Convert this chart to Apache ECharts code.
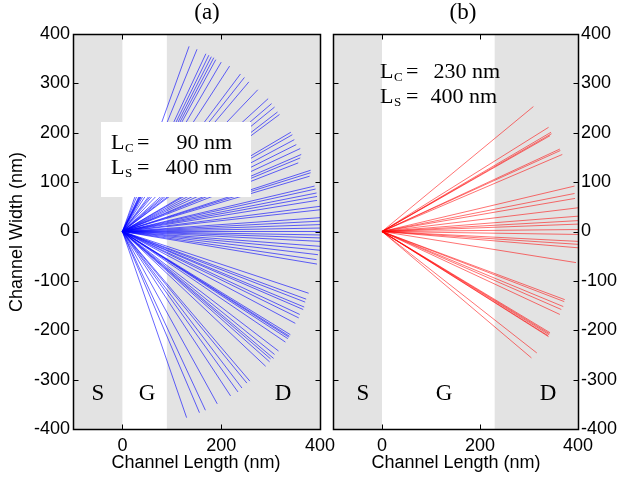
<!DOCTYPE html>
<html>
<head>
<meta charset="utf-8">
<script src="https://cdn.jsdelivr.net/npm/echarts@6/dist/echarts.min.js"></script>
<style>
  html, body { margin: 0; padding: 0; background: #fff; }
  #chart { width: 620px; height: 478px; }
</style>
</head>
<body>
<div id="chart"></div>
<script>
// end points of the paths, (a) L_C = 90 nm
const aEndX = [135, 151, 169, 175, 180, 185, 189, 200, 217, 239, 247, 256, 274, 295, 302, 308, 314, 318,
  341, 344, 348, 352, 360, 362, 360, 356, 381, 381, 379, 389, 391, 393, 394, 394,
  400, 400, 400, 400, 400, 400, 400, 400, 400, 400, 400, 400, 396, 393, 394,
  377, 372, 370, 368, 366, 359, 357, 350, 340, 338, 337, 335, 330, 316, 308, 306, 300, 298, 290,
  258, 252, 242, 234, 219, 192, 168, 156, 130];
const aEndY = [375, 369, 360, 357, 354, 352, 348, 343, 335, 319, 312, 303, 287, 269, 259, 252, 242, 237,
  201, 196, 186, 176, 168, 156, 149, 139, 124, 119, 112, 92, 86, 78, 71, 63,
  51, 44, 28, 21, 14, 7, 0, -7, -13, -20, -30, -38, -47, -57, -66,
  -125, -137, -143, -153, -158, -168, -175, -186, -209, -212, -214, -217, -224, -242, -249, -257, -258, -264, -273,
  -303, -307, -317, -325, -333, -349, -362, -367, -377];

// (b) L_C = 230 nm
const bEndX = [309, 340, 345, 346, 343, 363, 364, 368, 393, 393, 394, 400, 400, 400, 400, 400, 400, 400, 400, 400, 396,
  373, 372, 370, 366, 363, 343, 342, 341, 339, 340, 316, 305];
const bEndY = [253, 211, 201, 198, 194, 167, 164, 156, 92, 77, 67, 48, 31, 22, 15, 4, -6, -20, -26, -33, -63,
  -138, -142, -152, -158, -168, -205, -207, -209, -211, -213, -246, -256];

// gate regions (white), rest is source / drain (grey)
const gateA = [0, 90];
const gateB = [0, 230];

const xTicks = [0, 200, 400];
const yTicks = [-400, -300, -200, -100, 0, 100, 200, 300, 400];

const chart = echarts.init(document.getElementById('chart'));

const sans = '"Liberation Sans", Arial, sans-serif';
const tickFont = { fontFamily: sans, fontSize: 18, color: '#000' };

function makeX(grid, labels) {
  return {
    type: 'value', gridIndex: grid, min: -100, max: 400, interval: 100,
    axisLine: { show: false }, axisTick: { show: false },
    axisLabel: labels ? Object.assign({ customValues: xTicks, margin: 8 }, tickFont) : { show: false },
    splitLine: { show: false }
  };
}
function makeY(grid, pos) {
  return {
    type: 'value', gridIndex: grid, position: pos, min: -400, max: 400, interval: 100,
    axisLine: { show: false }, axisTick: { show: false },
    axisLabel: Object.assign({ margin: 3 }, tickFont),
    splitLine: { show: false }
  };
}

function rays(xs, ys) {
  return xs.map((x, i) => ({ coords: [[0, 0], [x, ys[i]]] }));
}

function greySeries(idx, gate) {
  return {
    type: 'line', xAxisIndex: idx, yAxisIndex: idx, data: [], z: 1, silent: true,
    markArea: {
      silent: true,
      itemStyle: { color: '#e3e3e3' },
      data: [
        [{ xAxis: -100 }, { xAxis: gate[0] }],
        [{ xAxis: gate[1] }, { xAxis: 400 }]
      ]
    }
  };
}

function txt(x, y, text, font, align) {
  return {
    type: 'text', x: x, y: y, z: 100,
    style: { text: text, fill: '#000', align: align || 'left', verticalAlign: 'middle', font: font }
  };
}
function serif(x, y, text, size, align) {
  return txt(x, y, text, size + 'px "Liberation Serif", "Times New Roman", serif', align);
}

// L_C / L_S label built from pieces so the subscripts sit low
function lengthLabel(x, y, sub, value, right) {
  return [
    serif(x, y, 'L', 22),
    serif(x + 14, y + 6, sub, 13),
    serif(x + 26, y, '=', 22),
    serif(right, y, value, 22, 'right')
  ];
}

function seg(x1, y1, x2, y2, w) {
  return { type: 'line', z: 120, shape: { x1: x1, y1: y1, x2: x2, y2: y2 },
    style: { stroke: '#000', lineWidth: w || 1 } };
}

// box + inward ticks on all four sides, placed through the axes
function frame(idx) {
  const finder = { xAxisIndex: idx, yAxisIndex: idx };
  const p0 = chart.convertToPixel(finder, [-100, -400]);
  const p1 = chart.convertToPixel(finder, [400, 400]);
  const l = Math.round(p0[0]) + 0.5, r = Math.round(p1[0]) + 0.5;
  const b = Math.round(p0[1]) + 0.5, t = Math.round(p1[1]) + 0.5;
  const out = [{ type: 'rect', z: 120, shape: { x: l, y: t, width: r - l, height: b - t },
    style: { fill: 'none', stroke: '#000', lineWidth: 1.5 } }];
  yTicks.forEach(v => {
    const y = Math.round(chart.convertToPixel(finder, [0, v])[1]) + 0.5;
    out.push(seg(l, y, l + 5, y), seg(r, y, r - 5, y));
  });
  xTicks.forEach(v => {
    const x = Math.round(chart.convertToPixel(finder, [v, 0])[0]) + 0.5;
    out.push(seg(x, b, x, b - 5), seg(x, t, x, t + 5));
  });
  return out;
}

chart.setOption({
  animation: false,
  grid: [
    { left: 73, top: 34, width: 247, height: 395 },
    { left: 333, top: 34, width: 247, height: 395 }
  ],
  xAxis: [makeX(0, true), makeX(1, true)],
  yAxis: [makeY(0, 'left'), makeY(1, 'right')],
  series: [
    greySeries(0, gateA),
    greySeries(1, gateB),
    {
      type: 'lines', coordinateSystem: 'cartesian2d', xAxisIndex: 0, yAxisIndex: 0, z: 2,
      lineStyle: { color: '#0000ff', width: 1, opacity: 0.6 },
      data: rays(aEndX, aEndY)
    },
    {
      type: 'lines', coordinateSystem: 'cartesian2d', xAxisIndex: 1, yAxisIndex: 1, z: 2,
      lineStyle: { color: '#ff0000', width: 1, opacity: 0.55 },
      data: rays(bEndX, bEndY)
    }
  ]
});

const yName = txt(17, 232, 'Channel Width (nm)', '18px ' + sans, 'center');
yName.rotation = Math.PI / 2;

const elements = [
  serif(207, 13, '(a)', 23, 'center'),
  serif(463, 13, '(b)', 23, 'center'),
  yName,
  txt(196, 463, 'Channel Length (nm)', '18px ' + sans, 'center'),
  txt(456, 463, 'Channel Length (nm)', '18px ' + sans, 'center'),
  { type: 'rect', z: 99, shape: { x: 101, y: 122, width: 150, height: 75 }, style: { fill: '#fff' } },
  ...lengthLabel(111, 143, 'C', '90 nm', 232),
  ...lengthLabel(111, 168, 'S', '400 nm', 232),
  ...lengthLabel(380, 72, 'C', '230 nm', 500),
  ...lengthLabel(380, 97, 'S', '400 nm', 497),
  serif(98, 394, 'S', 23, 'center'),
  serif(147, 394, 'G', 23, 'center'),
  serif(283, 394, 'D', 23, 'center'),
  serif(363, 394, 'S', 23, 'center'),
  serif(444, 394, 'G', 23, 'center'),
  serif(548, 394, 'D', 23, 'center'),
  ...frame(0),
  ...frame(1)
];
elements.forEach(e => { e.zlevel = 1; });

chart.setOption({ graphic: { elements: elements } });
</script>
</body>
</html>
